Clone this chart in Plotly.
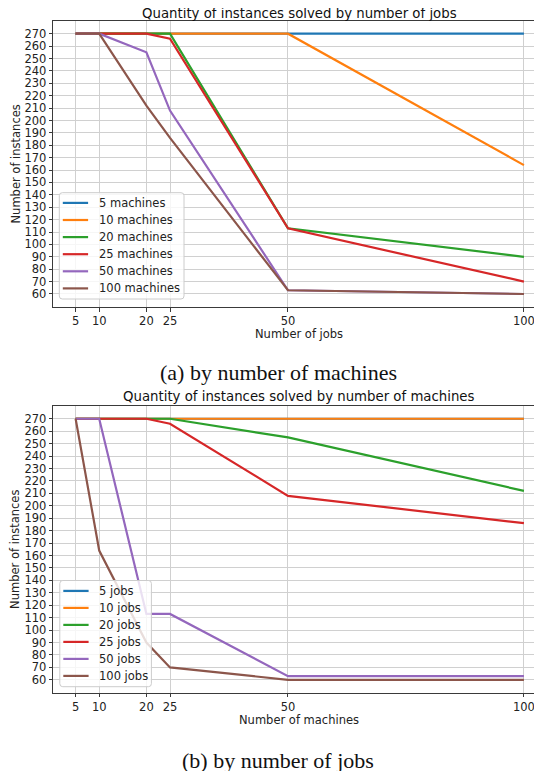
import plotly.graph_objects as go

W, H = 542, 771
OFF = 8  # default page body margin

# x values (shared)
sizes = [5, 10, 20, 25, 50, 100]
y_ticks = list(range(60, 271, 10))

# Top chart: instances solved vs number of jobs, one series per machine count
machines_labels = ["5 machines", "10 machines", "20 machines", "25 machines", "50 machines", "100 machines"]
m5 = [270, 270, 270, 270, 270, 270]
m10 = [270, 270, 270, 270, 270, 164]
m20 = [270, 270, 270, 270, 113, 90]
m25 = [270, 270, 270, 266, 113, 70]
m50 = [270, 270, 255, 208, 63, 60]
m100 = [270, 270, 212, 186, 63, 60]

# Bottom chart: instances solved vs number of machines, one series per job count
jobs_labels = ["5 jobs", "10 jobs", "20 jobs", "25 jobs", "50 jobs", "100 jobs"]
j5 = [270, 270, 270, 270, 270, 270]
j10 = [270, 270, 270, 270, 270, 270]
j20 = [270, 270, 270, 270, 255, 212]
j25 = [270, 270, 270, 266, 208, 186]
j50 = [270, 270, 113, 113, 63, 63]
j100 = [270, 164, 90, 70, 60, 60]

colors = ["#1f77b4", "#ff7f0e", "#2ca02c", "#d62728", "#9467bd", "#8c564b"]

fig = go.Figure()

for lab, ys, c in zip(machines_labels, [m5, m10, m20, m25, m50, m100], colors):
    fig.add_trace(go.Scatter(x=sizes, y=ys, mode="lines", name=lab, showlegend=False,
                             line=dict(color=c, width=2.2), xaxis="x", yaxis="y"))
for lab, ys, c in zip(jobs_labels, [j5, j10, j20, j25, j50, j100], colors):
    fig.add_trace(go.Scatter(x=sizes, y=ys, mode="lines", name=lab, showlegend=False,
                             line=dict(color=c, width=2.2), xaxis="x2", yaxis="y2"))

FW, FH = W - OFF, H - OFF

def px_x(p):
    return (p - OFF) / FW

def px_y(p):
    return 1 - (p - OFF) / FH

# pixel geometry (window pixels)
left = 53.2
scale_x = 4.719
xr = [0.25, 0.25 + (W - left) / scale_x]
yr = [49.5, 280.5]

font = "DejaVu Sans"
tickfont = dict(family=font, size=11.5, color="#222")
grid = "#d0d0d0"
spine = "#3a3a3a"

def xaxis(anchor):
    return dict(domain=[px_x(left), 1.0], range=xr, anchor=anchor, automargin=False,
                tickmode="array", tickvals=sizes, ticktext=[str(s) for s in sizes],
                showgrid=True, gridcolor=grid, gridwidth=1, zeroline=False,
                showline=True, linecolor=spine, linewidth=1, mirror=True,
                ticks="outside", ticklen=3.5, tickcolor=spine, tickwidth=1,
                tickfont=tickfont)

def yaxis(dom, anchor):
    return dict(domain=dom, range=yr, anchor=anchor, automargin=False,
                tickmode="array", tickvals=y_ticks,
                showgrid=True, gridcolor=grid, gridwidth=1, zeroline=False,
                showline=True, linecolor=spine, linewidth=1, mirror=False,
                ticks="outside", ticklen=3.5, tickcolor=spine, tickwidth=1,
                tickfont=tickfont)

fig.update_layout(
    width=FW, height=FH,
    margin=dict(l=0, r=0, t=0, b=0, autoexpand=False),
    paper_bgcolor="white", plot_bgcolor="white",
    showlegend=False,
    xaxis=xaxis("y"),
    yaxis=yaxis([px_y(307.0), px_y(20.7)], "x"),
    xaxis2=xaxis("y2"),
    yaxis2=yaxis([px_y(692.9), px_y(405.7)], "x2"),
)

title_font = dict(family=font, size=13.3, color="#111")
lab_font = dict(family=font, size=11.5, color="#222")
cap_font = dict(family="Liberation Serif", size=22, color="#111")
anns = [
    dict(text="Quantity of instances solved by number of jobs", x=px_x(299.5), y=px_y(13.3), font=title_font),
    dict(text="Quantity of instances solved by number of machines", x=px_x(299.5), y=px_y(397), font=title_font),
    dict(text="Number of jobs", x=px_x(299.5), y=px_y(333.5), font=lab_font),
    dict(text="Number of machines", x=px_x(299.5), y=px_y(720), font=lab_font),
    dict(text="Number of instances", x=px_x(15.6), y=px_y(163.9), font=lab_font, textangle=-90),
    dict(text="Number of instances", x=px_x(15.6), y=px_y(549.3), font=lab_font, textangle=-90),
    dict(text="(a) by number of machines", x=px_x(278), y=px_y(372.7), font=cap_font),
    dict(text="(b) by number of jobs", x=px_x(278), y=px_y(760.5), font=cap_font),
]
for a in anns:
    fig.add_annotation(xref="paper", yref="paper", showarrow=False, xanchor="center", yanchor="middle", **a)

# Manual legends (matplotlib-style)
def rounded_rect(x0, y0, x1, y1, r=3):
    def P(x, y):
        return f"{px_x(x):.5f},{px_y(y):.5f}"
    return (f"M {P(x0 + r, y0)} L {P(x1 - r, y0)} Q {P(x1, y0)} {P(x1, y0 + r)} "
            f"L {P(x1, y1 - r)} Q {P(x1, y1)} {P(x1 - r, y1)} L {P(x0 + r, y1)} "
            f"Q {P(x0, y1)} {P(x0, y1 - r)} L {P(x0, y0 + r)} Q {P(x0, y0)} {P(x0 + r, y0)} Z")

def add_legend(labels, box, first_y, step):
    x0, y0, x1, y1 = box
    fig.add_shape(type="path", path=rounded_rect(x0, y0, x1, y1), xref="paper", yref="paper",
                  fillcolor="rgba(255,255,255,0.8)", line=dict(color="#cccccc", width=1), layer="above")
    for i, (lab, c) in enumerate(zip(labels, colors)):
        yy = first_y + step * i
        fig.add_shape(type="line", xref="paper", yref="paper",
                      x0=px_x(x0 + 3.5), x1=px_x(x0 + 28.8), y0=px_y(yy), y1=px_y(yy),
                      line=dict(color=c, width=2.2), layer="above")
        fig.add_annotation(xref="paper", yref="paper", showarrow=False, xanchor="left", yanchor="middle",
                           x=px_x(x0 + 37.5), y=px_y(yy), text=lab, font=lab_font)

add_legend(machines_labels, (59.3, 192.7, 184.0, 299.0), 202.9, 17.1)
add_legend(jobs_labels, (59.8, 580.5, 151.4, 686.7), 590.9, 17.0)

fig.write_html("out.html")
